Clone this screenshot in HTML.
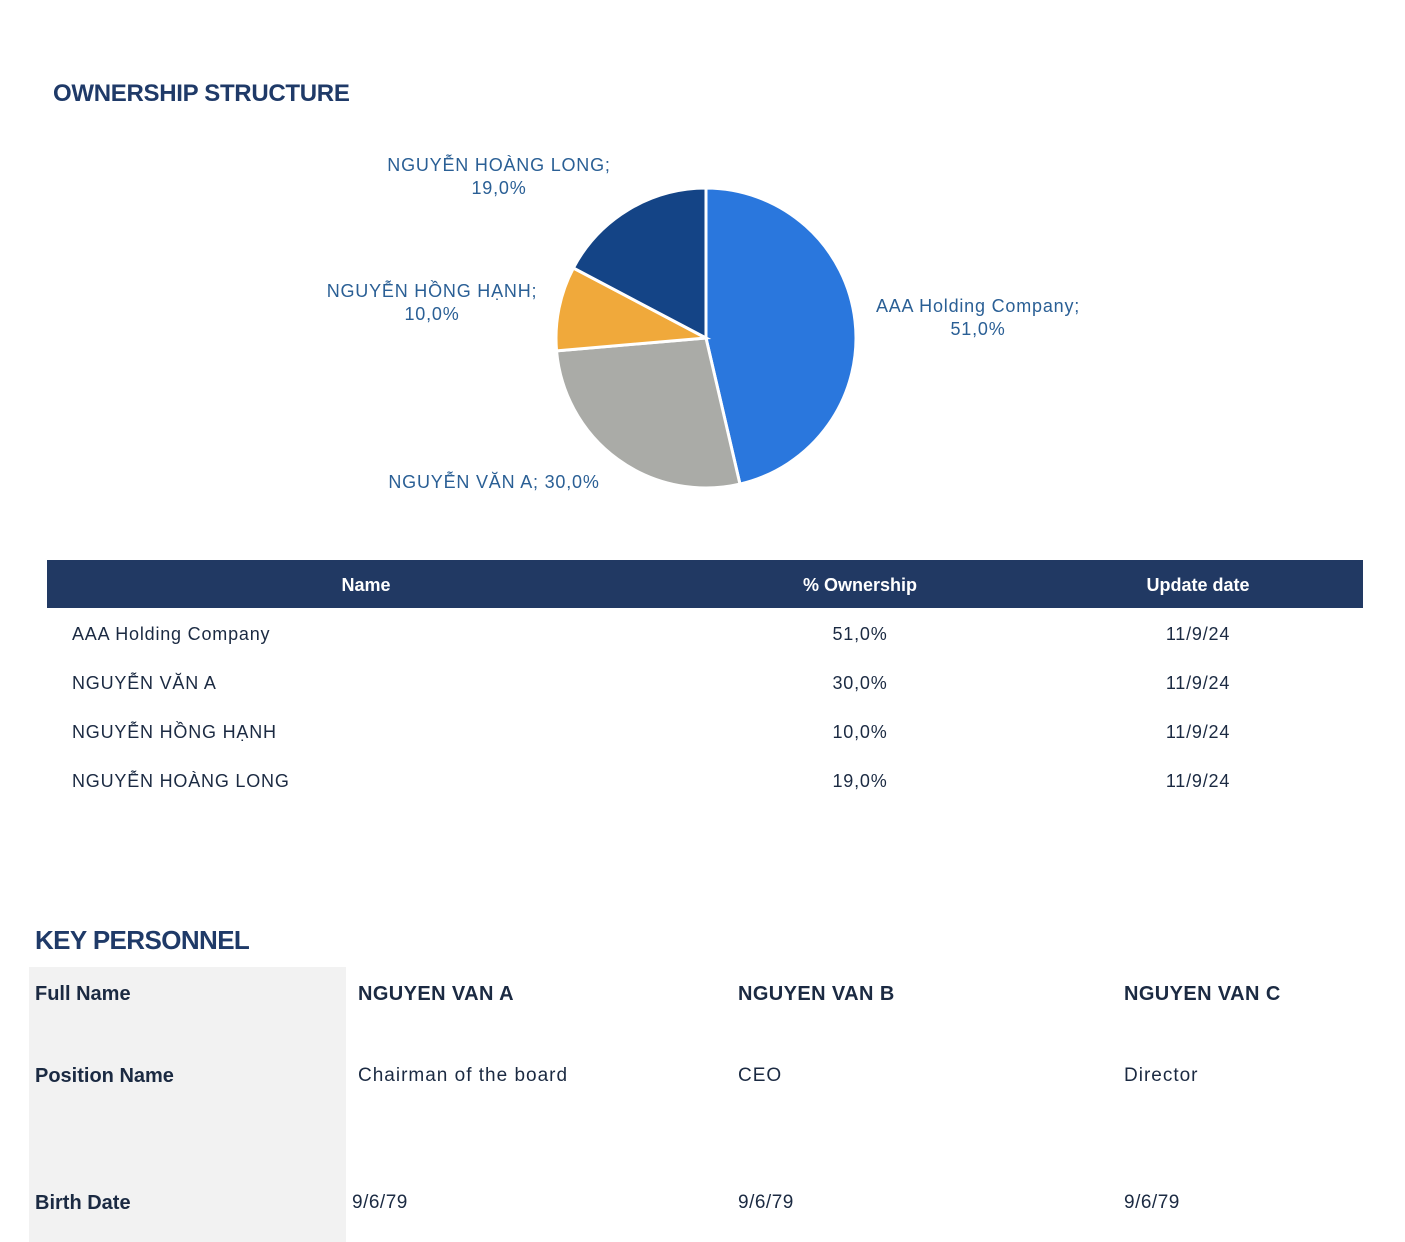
<!DOCTYPE html>
<html><head><meta charset="utf-8">
<style>
body{margin:0;width:1405px;height:1242px;background:#fff;font-family:"Liberation Sans",Arial,sans-serif;position:relative;overflow:hidden;color:#1b2a42}
.abs{position:absolute;white-space:nowrap}
.t{font-size:18px;line-height:22px}
.b{font-weight:bold;letter-spacing:-0.6px}
.kb{font-weight:bold;font-size:20px;line-height:22px;letter-spacing:0}
.kn{font-weight:bold;font-size:20px;line-height:22px;letter-spacing:0.4px}
.kt{font-size:19px;line-height:22px;letter-spacing:1px}
</style></head><body>
<div class="abs b" style="left:53px;top:80px;font-size:24px;color:#1f3a68;letter-spacing:-0.3px">OWNERSHIP STRUCTURE</div>
<svg id="pie" width="1405" height="540" style="position:absolute;left:0;top:0"></svg>

<div class="abs" style="left:47px;top:560px;width:1316px;height:48px;background:#213963"></div>
<div class="abs t b" style="left:0;width:732px;text-align:center;top:574px;color:#fff;letter-spacing:0">Name</div>
<div class="abs t b" style="left:660px;width:400px;text-align:center;top:574px;color:#fff;letter-spacing:0">% Ownership</div>
<div class="abs t b" style="left:998px;width:400px;text-align:center;top:574px;color:#fff;letter-spacing:0">Update date</div>
<div id="rows"></div>

<div class="abs b" style="left:35px;top:925px;font-size:26px;color:#1f3a68">KEY PERSONNEL</div>
<div class="abs" style="left:29px;top:967px;width:317px;height:275px;background:#f2f2f2"></div>
<div class="abs kb" style="left:35px;top:983px">Full Name</div>
<div class="abs kb" style="left:35px;top:1065px">Position Name</div>
<div class="abs kb" style="left:35px;top:1192px">Birth Date</div>
<div class="abs kn" style="left:358px;top:983px">NGUYEN VAN A</div>
<div class="abs kn" style="left:738px;top:983px">NGUYEN VAN B</div>
<div class="abs kn" style="left:1124px;top:983px">NGUYEN VAN C</div>
<div class="abs kt" style="left:358px;top:1065px">Chairman of the board</div>
<div class="abs kt" style="left:738px;top:1065px">CEO</div>
<div class="abs kt" style="left:1124px;top:1065px">Director</div>
<div class="abs kt" style="left:352px;top:1192px;letter-spacing:0.5px">9/6/79</div>
<div class="abs kt" style="left:738px;top:1192px;letter-spacing:0.5px">9/6/79</div>
<div class="abs kt" style="left:1124px;top:1192px;letter-spacing:0.5px">9/6/79</div>

<script>
const names=["AAA Holding Company","NGUYỄN VĂN A","NGUYỄN HỒNG HẠNH","NGUYỄN HOÀNG LONG"];
const values=[51,30,10,19];
const valueLabels=["51,0%","30,0%","10,0%","19,0%"];
const dates=["11/9/24","11/9/24","11/9/24","11/9/24"];
const colors=["#2a77dd","#aaaba7","#f0a93b","#144486"];
const labelPos=[[978,306,"AAA Holding Company;","51,0%"],[494,482,"NGUYỄN VĂN A; 30,0%",null],[432,291,"NGUYỄN HỒNG HẠNH;","10,0%"],[499,165,"NGUYỄN HOÀNG LONG;","19,0%"]];
const NS="http://www.w3.org/2000/svg";
const svg=document.getElementById('pie');
const cx=706,cy=338,r=150;
const total=values.reduce((a,b)=>a+b,0);
let a0=0;
function pt(a){return [cx+r*Math.sin(a),cy-r*Math.cos(a)];}
values.forEach((v,i)=>{
  const a1=a0+v/total*2*Math.PI;
  const p0=pt(a0),p1=pt(a1);
  const path=document.createElementNS(NS,'path');
  path.setAttribute('d',`M${cx},${cy}L${p0[0]},${p0[1]}A${r},${r} 0 ${a1-a0>Math.PI?1:0} 1 ${p1[0]},${p1[1]}Z`);
  path.setAttribute('fill',colors[i]);path.setAttribute('stroke','#fff');path.setAttribute('stroke-width','3');
  
  
  svg.appendChild(path);
  a0=a1;
  const lp=labelPos[i];
  const t=document.createElementNS(NS,'text');
  t.setAttribute('x',lp[0]);t.setAttribute('y',lp[1]+6);t.setAttribute('text-anchor','middle');
  t.setAttribute('font-size','18');t.setAttribute('fill','#2a5f95');t.setAttribute('font-family','Liberation Sans, sans-serif');
  t.setAttribute('letter-spacing','0.8');
  
  
  if(lp[3]){t.textContent=names[i]+';';const t2=t.cloneNode();t2.setAttribute('y',lp[1]+29);t2.textContent=valueLabels[i];svg.appendChild(t2);}
  else t.textContent=names[i]+'; '+valueLabels[i];
  svg.appendChild(t);
});
const rows=document.getElementById('rows');
names.forEach((n,i)=>{
  const y=623+i*49;
  [[n,'left:72px'],[valueLabels[i],'left:660px;width:400px;text-align:center'],[dates[i],'left:998px;width:400px;text-align:center']].forEach((c,j)=>{
    const d=document.createElement('div');d.className='abs t';
    d.setAttribute('style',c[1]+';top:'+y+'px;letter-spacing:0.8px');
    d.textContent=c[0];
    
    
    rows.appendChild(d);
  });
});
</script>
</body></html>
